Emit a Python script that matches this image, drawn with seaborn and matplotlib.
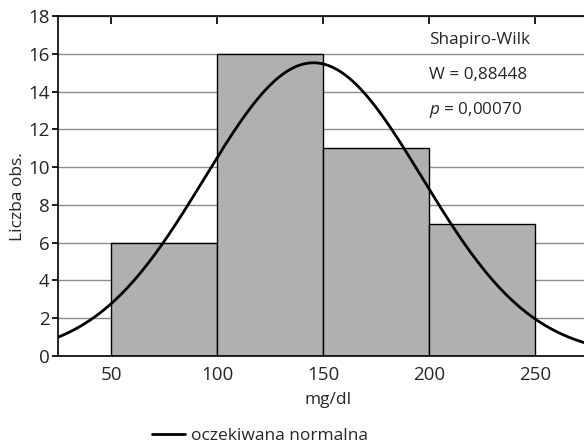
import numpy as np
import pandas as pd
import seaborn as sns
import matplotlib
matplotlib.use("Agg")
import matplotlib.pyplot as plt
from matplotlib.lines import Line2D

# data
bin_edges = [50, 100, 150, 200, 250]
counts = [6, 16, 11, 7]
fit_mean = 145.5
fit_sd = 51.4
n_obs = sum(counts)
bin_width = 50
x_label = "mg/dl"
y_label = "Liczba obs."
test_name = "Shapiro-Wilk"
w_text = "W = 0,88448"
p_text = "$\\it{p}$ = 0,00070"
legend_label = "oczekiwana normalna"
x_ticks = [50, 100, 150, 200, 250]
y_ticks = [0, 2, 4, 6, 8, 10, 12, 14, 16, 18]

FONT = 'Open Sans'
sns.set_theme(style="white")
plt.rcParams['font.family'] = [FONT, 'DejaVu Sans']
plt.rcParams['mathtext.fontset'] = 'custom'
plt.rcParams['mathtext.it'] = FONT + ':italic'
plt.rcParams['mathtext.rm'] = FONT

fig = plt.figure(figsize=(5.84, 4.46), dpi=100)
ax = fig.add_axes([58/584, 90/446, 530/584, 340/446])

centers = [(a + b) / 2 for a, b in zip(bin_edges[:-1], bin_edges[1:])]
df = pd.DataFrame({"x": centers, "w": counts})
sns.histplot(data=df, x="x", weights="w", bins=bin_edges, ax=ax,
             color="#b0b0b0", edgecolor="black", linewidth=1.0, alpha=1.0, zorder=2)

xs = np.linspace(25, 275, 400)
ys = n_obs * bin_width * np.exp(-0.5 * ((xs - fit_mean) / fit_sd) ** 2) / (fit_sd * np.sqrt(2 * np.pi))
sns.lineplot(x=xs, y=ys, ax=ax, color="black", linewidth=2.0, zorder=3)

ax.set_xlim(25, 275)
ax.set_ylim(0, 18)
ax.set_xticks(x_ticks)
ax.set_yticks(y_ticks)
ax.yaxis.grid(True, color="#8c8c8c", linewidth=1.0, zorder=0)
ax.xaxis.grid(False)
ax.set_axisbelow(True)
for s in ax.spines.values():
    s.set_color("black")
    s.set_linewidth(1.2)
ax.tick_params(axis="y", which="both", left=True, right=True, direction="out", length=4,
               labelsize=13.5, color="black", pad=2)
ax.tick_params(axis="x", which="both", bottom=False, top=True, direction="in", length=6,
               labelsize=13.5, color="black", pad=7)
ax.set_xlabel(x_label, fontsize=12.5)
ax.set_ylabel(y_label, fontsize=12.5)
ax.xaxis.set_label_coords((328 - 58) / 530, (356 - 400) / 340)
ax.xaxis.label.set_va("center")
ax.yaxis.set_label_coords((18 - 58) / 530, (356 - 197) / 340)
ax.yaxis.label.set_va("center")

ax.text(200, 16.73, test_name, fontsize=12.3, va="center")
ax.text(200, 14.88, w_text, fontsize=12.3, va="center")
ax.text(200, 13.02, p_text, fontsize=12.3, va="center")

handle = Line2D([], [], color="black", linewidth=2.0)
fig.legend([handle], [legend_label], loc="center", bbox_to_anchor=(260/584, 1 - 436/446),
           frameon=False, fontsize=12.5, handlelength=1.9, handletextpad=0.3,
           borderpad=0.2)

fig.savefig("out.png", dpi=100)
